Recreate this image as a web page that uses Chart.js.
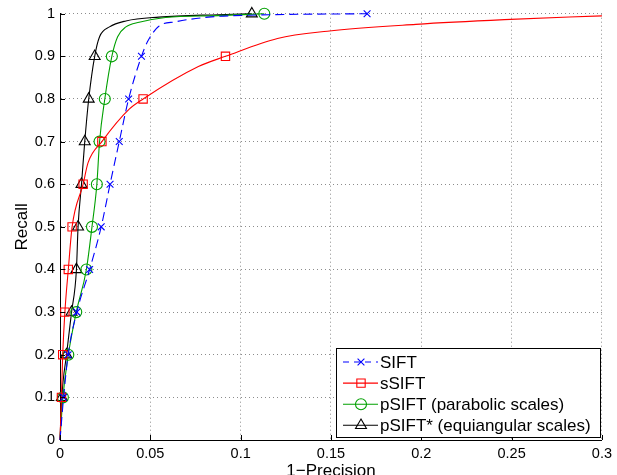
<!DOCTYPE html>
<html>
<head>
<meta charset="utf-8">
<script src="https://cdn.jsdelivr.net/npm/chart.js@4/dist/chart.umd.min.js"></script>
<style>
  html, body { margin: 0; padding: 0; background: #fff; }
  #wrap { width: 617px; height: 475px; }
</style>
</head>
<body>
<div id="wrap"><canvas id="prChart"></canvas></div>
<script>
// recall levels where markers sit
const recall = [0.1, 0.2, 0.3, 0.4, 0.5, 0.6, 0.7, 0.8, 0.9, 1.0];

// marker positions (1-precision) per recall level
const siftMarkX = [0.002, 0.0045, 0.0093, 0.0164, 0.0228, 0.0277, 0.0328, 0.038, 0.0451, 0.170];
const ssiftMarkX = [0.0008, 0.0015, 0.0027, 0.0046, 0.0067, 0.0128, 0.0232, 0.046, 0.0916];
const psiftMarkX = [0.0016, 0.0046, 0.009, 0.0146, 0.0177, 0.0204, 0.0219, 0.0248, 0.0287, 0.1131];
const pstarMarkX = [0.001, 0.0036, 0.0064, 0.0091, 0.0100, 0.0119, 0.0137, 0.0159, 0.0192, 0.1062];

// full curves
const siftCurveX = [0, 0.002, 0.0045, 0.0093, 0.0164, 0.0228, 0.0277, 0.0328, 0.038, 0.0451, 0.0484, 0.0547, 0.0639, 0.0821, 0.11, 0.17];
const siftCurveY = [0, 0.1, 0.2, 0.3, 0.4, 0.5, 0.6, 0.7, 0.8, 0.9, 0.934, 0.9705, 0.981, 0.992, 0.997, 1.0];
const ssiftCurveX = [0, 0.0008, 0.0015, 0.0027, 0.0046, 0.0067, 0.0128, 0.0155, 0.0232, 0.0383, 0.046, 0.0766, 0.0916, 0.1204, 0.148, 0.197, 0.246, 0.3];
const ssiftCurveY = [0, 0.1, 0.2, 0.3, 0.4, 0.5, 0.6, 0.65, 0.7, 0.776, 0.8, 0.876, 0.9, 0.942, 0.959, 0.975, 0.986, 0.995];
const psiftCurveX = [0, 0.0016, 0.0046, 0.009, 0.0146, 0.0177, 0.0204, 0.0219, 0.0248, 0.0287, 0.0319, 0.0365, 0.0438, 0.0584, 0.0876, 0.1131];
const psiftCurveY = [0, 0.1, 0.2, 0.3, 0.4, 0.5, 0.6, 0.7, 0.8, 0.9, 0.946, 0.969, 0.98, 0.991, 0.9955, 1.0];
const pstarCurveX = [0, 0.001, 0.0036, 0.0064, 0.0091, 0.0100, 0.0119, 0.0137, 0.0159, 0.0192, 0.0219, 0.0274, 0.0365, 0.0547, 0.0876, 0.1062];
const pstarCurveY = [0, 0.1, 0.2, 0.3, 0.4, 0.5, 0.6, 0.7, 0.8, 0.9, 0.946, 0.969, 0.983, 0.992, 0.9977, 1.0];

const xTicks = [0, 0.05, 0.1, 0.15, 0.2, 0.25, 0.3];
const yTicks = [0, 0.1, 0.2, 0.3, 0.4, 0.5, 0.6, 0.7, 0.8, 0.9, 1];

const FONT = "'Liberation Sans', Arial, Helvetica, sans-serif";

const series = [
  { label: "SIFT", color: "#0000ff", style: "crossRot", r: 4.8, dash: [9, 5], cx: siftCurveX, cy: siftCurveY, mx: siftMarkX },
  { label: "sSIFT", color: "#ff0000", style: "rect", r: 5.9, dash: [], cx: ssiftCurveX, cy: ssiftCurveY, mx: ssiftMarkX },
  { label: "pSIFT (parabolic scales)", color: "#00a000", style: "circle", r: 5.5, dash: [], cx: psiftCurveX, cy: psiftCurveY, mx: psiftMarkX },
  { label: "pSIFT* (equiangular scales)", color: "#000000", style: "triangle", r: 6.3, dash: [], cx: pstarCurveX, cy: pstarCurveY, mx: pstarMarkX }
];

const datasets = [];
series.forEach(s => {
  datasets.push({
    type: "line",
    label: s.label,
    data: s.cx.map((x, i) => ({ x: x, y: s.cy[i] })),
    borderColor: s.color,
    borderWidth: 1.1,
    borderDash: s.dash,
    pointRadius: 0,
    cubicInterpolationMode: "monotone",
    fill: false,
    clip: 2
  });
  datasets.push({
    type: "scatter",
    label: s.label + " markers",
    data: s.mx.map((x, i) => ({ x: x, y: recall[i] })),
    showLine: false,
    pointStyle: s.style,
    pointRadius: s.r,
    pointBorderWidth: 1.1,
    pointBorderColor: s.color,
    pointBackgroundColor: "rgba(0,0,0,0)",
    clip: false
  });
});

// inward ticks on left and bottom axes, MATLAB style
const axisTicks = {
  id: "axisTicks",
  afterDatasetsDraw(chart) {
    const { ctx, chartArea: a, scales: { x, y } } = chart;
    ctx.save();
    ctx.strokeStyle = "#000";
    ctx.lineWidth = 1;
    ctx.beginPath();
    xTicks.forEach(v => {
      const px = Math.round(x.getPixelForValue(v)) + 0.5;
      ctx.moveTo(px, a.bottom);
      ctx.lineTo(px, a.bottom - 5);
    });
    yTicks.forEach(v => {
      const py = Math.round(y.getPixelForValue(v)) + 0.5;
      ctx.moveTo(a.left, py);
      ctx.lineTo(a.left + 5, py);
    });
    ctx.stroke();
    ctx.restore();
  }
};

// boxed legend in lower right
const boxLegend = {
  id: "boxLegend",
  afterDraw(chart) {
    const { ctx } = chart;
    const bx = 336.5, by = 348.5, bw = 264, bh = 89;
    ctx.save();
    ctx.fillStyle = "#fff";
    ctx.fillRect(bx, by, bw, bh);
    ctx.strokeStyle = "#000";
    ctx.lineWidth = 1;
    ctx.strokeRect(bx, by, bw, bh);
    ctx.font = "17px " + FONT;
    ctx.textBaseline = "middle";
    series.forEach((s, i) => {
      const ly = 362 + i * 21.1;
      ctx.strokeStyle = s.color;
      ctx.lineWidth = 1.1;
      ctx.setLineDash(s.dash.length ? [6, 5] : []);
      ctx.beginPath();
      ctx.moveTo(343, ly);
      ctx.lineTo(378, ly);
      ctx.stroke();
      ctx.setLineDash([]);
      if (Chart.helpers && Chart.helpers.drawPoint) {
        ctx.fillStyle = "rgba(0,0,0,0)";
        Chart.helpers.drawPoint(ctx, { pointStyle: s.style, radius: s.r, borderWidth: 1.1, rotation: 0 }, 361, ly);
      }
      ctx.fillStyle = "#000";
      ctx.fillText(s.label, 380, ly + 1);
    });
    ctx.restore();
  }
};

const fmt = v => String(Number(Number(v).toFixed(2)));

new Chart(document.getElementById("prChart"), {
  type: "line",
  data: { datasets: datasets },
  options: {
    responsive: true,
    maintainAspectRatio: false,
    animation: false,
    layout: { padding: { top: 10, right: 9, left: 0, bottom: 0 } },
    plugins: { legend: { display: false }, tooltip: { enabled: false } },
    scales: {
      x: {
        type: "linear",
        min: 0,
        max: 0.3,
        afterBuildTicks: sc => { sc.ticks = xTicks.map(v => ({ value: v })); },
        afterFit: sc => { sc.height = 35; },
        ticks: { color: "#000", font: { family: FONT, size: 14.5 }, padding: 5, maxRotation: 0, autoSkip: false, callback: fmt },
        grid: { color: "#8c8c8c", drawTicks: false, lineWidth: 1 },
        border: { display: true, color: "#000", width: 1, dash: [1, 3] },
        title: { display: true, text: "1\u2212Precision", color: "#000", font: { family: FONT, size: 17 }, padding: { top: 0, bottom: -7 } }
      },
      y: {
        type: "linear",
        min: 0,
        max: 1,
        afterBuildTicks: sc => { sc.ticks = yTicks.map(v => ({ value: v })); },
        afterFit: sc => { sc.width = 60; },
        ticks: { color: "#000", font: { family: FONT, size: 14.5 }, padding: 5, autoSkip: false, callback: fmt },
        grid: { color: "#8c8c8c", drawTicks: false, lineWidth: 1 },
        border: { display: true, color: "#000", width: 1, dash: [1, 3] },
        title: { display: true, text: "Recall", color: "#000", font: { family: FONT, size: 17 }, padding: { top: 12, bottom: 0 } }
      }
    }
  },
  plugins: [axisTicks, boxLegend]
});
</script>
</body>
</html>
